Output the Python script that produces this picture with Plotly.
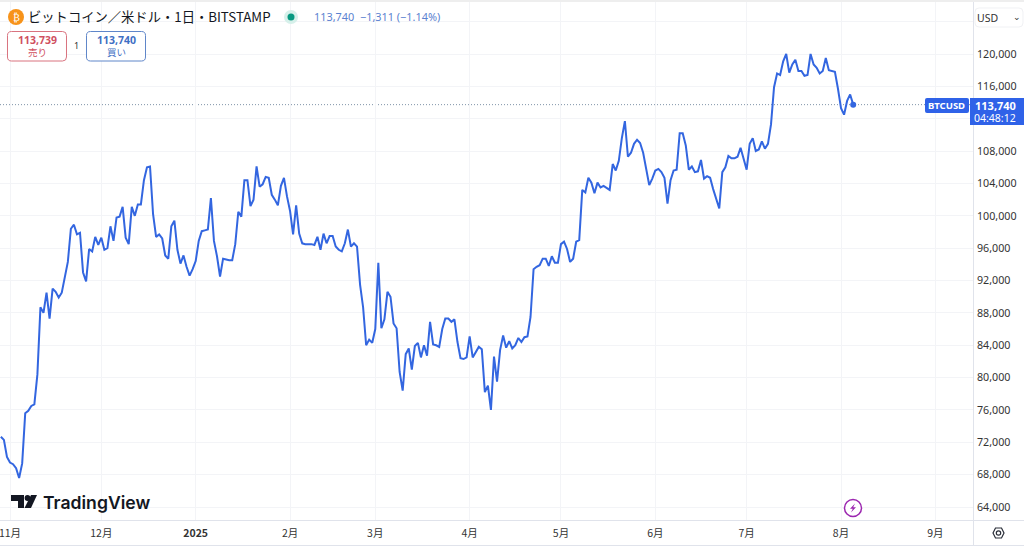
import pandas as pd
import plotly.graph_objects as go

# Daily closes, first one is 2024-10-29
start_date = "2024-10-29"
closes = [
    72700, 72300, 70200, 69500, 69300, 68800, 67600, 69400, 75600, 75900, 76500, 76700, 80400, 88700, 88000, 90500,
    87300, 91000, 90600, 89900, 90500, 92300, 94300, 98400, 98900, 97700, 97900, 93000, 91900, 95900, 95600, 97400,
    96400, 97300, 95800, 96000, 98700, 96900, 99800, 99900, 101100, 97300, 96500, 101100, 100000, 101400, 101400, 104400,
    106000, 106100, 100200, 97400, 97700, 97200, 95100, 94700, 98700, 99400, 95800, 94100, 95100, 93700, 92600, 93400,
    94400, 96900, 98100, 98200, 98300, 102200, 96900, 95000, 92500, 94700, 94600, 94500, 94500, 96500, 100500, 99900,
    104400, 104400, 101200, 102000, 106100, 103600, 103900, 104800, 104700, 102600, 102000, 101300, 103700, 104700, 102400, 100600,
    97700, 101300, 97800, 96600, 96500, 96500, 96500, 96400, 97400, 95800, 97800, 96600, 97500, 97500, 96200, 95800,
    95600, 96600, 98300, 96200, 96600, 96200, 91500, 88700, 84000, 84700, 84300, 86000, 94200, 86100, 87200, 90600,
    90000, 86700, 86100, 80700, 78400, 82900, 83600, 81000, 83900, 84300, 82500, 84000, 82700, 86900, 84100, 84000,
    83800, 86000, 87300, 87300, 86900, 87200, 84400, 82400, 82300, 82500, 85100, 82500, 83100, 83800, 83500, 78200,
    79000, 76000, 82600, 79500, 83400, 85200, 83700, 84500, 83600, 84000, 84900, 84400, 85000, 85100, 87500, 93400,
    93700, 93900, 94700, 94700, 93800, 95000, 94200, 94200, 96500, 96800, 95900, 94300, 94700, 96800, 97000, 103200,
    102900, 104700, 104100, 102800, 104100, 103500, 103700, 103500, 103200, 106400, 105600, 106800, 109600, 111700, 107300, 107800,
    108900, 109400, 109000, 107800, 105600, 103800, 104600, 105600, 105800, 105400, 104700, 101500, 104400, 105600, 105700, 110200,
    110200, 108700, 105700, 106100, 105400, 105500, 106900, 104600, 104900, 104700, 103300, 102100, 100900, 105400, 106000, 107400,
    107100, 107100, 107300, 108400, 107100, 105700, 108900, 109600, 108000, 108200, 109200, 108300, 108900, 111300, 115900, 117600,
    117400, 119100, 120000, 117700, 118700, 119300, 117900, 117900, 117300, 117400, 120000, 118700, 118300, 117600, 117900, 119500,
    118000, 117900, 117800, 115700, 113300, 112500, 114200, 115000, 113740,
]

month_dates = ["2024-11-01", "2024-12-01", "2025-01-01", "2025-02-01", "2025-03-01", "2025-04-01",
               "2025-05-01", "2025-06-01", "2025-07-01", "2025-08-01", "2025-09-01"]
month_labels = ["11月", "12月", "<b>2025</b>", "2月", "3月", "4月", "5月", "6月", "7月", "8月", "9月"]

price_ticks = [64000, 68000, 72000, 76000, 80000, 84000, 88000, 92000, 96000, 100000,
               104000, 108000, 112000, 116000, 120000, 124000]
# 112,000 sits under the price tag and 124,000 under the USD button
price_labels = ["" if p in (112000, 124000) else f"{p:,}" for p in price_ticks]

last_price = closes[-1]
dates = pd.date_range(start_date, periods=len(closes), freq="D")

W, H = 1024, 554
PLOT_R, PLOT_B, PLOT_T = 973, 520, 2
PX_PER_DAY = 3.044
USD_PER_PX = 123.6
BLUE = "#3366e0"
GRID = "#f3f4f7"
BORDER = "#e0e3eb"
JP = "Noto Sans CJK JP"

nov1 = pd.Timestamp("2024-11-01")
x_left = nov1 - pd.Timedelta(days=10 / PX_PER_DAY)
x_right = nov1 + pd.Timedelta(days=(PLOT_R - 10) / PX_PER_DAY)
y_top = 120000 + (54 - PLOT_T) * USD_PER_PX
y_bottom = 120000 - (PLOT_B - 54) * USD_PER_PX


def px(x):
    return x / W


def py(y):
    return 1 - y / H


def box(x0, y0, x1, y1, kind="rect", **kw):
    return dict(type=kind, xref="paper", yref="paper", x0=px(x0), x1=px(x1), y0=py(y0), y1=py(y1), **kw)


def dot(cx, cy, r, **kw):
    return box(cx - r, cy - r, cx + r, cy + r, kind="circle", **kw)


def poly(points, **kw):
    path = "M " + " L ".join(f"{px(x):.5f},{py(y):.5f}" for x, y in points) + " Z"
    return dict(type="path", xref="paper", yref="paper", path=path, **kw)


def round_box(x0, y0, x1, y1, r, **kw):
    def p(x, y):
        return f"{px(x):.5f},{py(y):.5f}"
    path = (f"M {p(x0 + r, y0)} L {p(x1 - r, y0)} Q {p(x1, y0)} {p(x1, y0 + r)} "
            f"L {p(x1, y1 - r)} Q {p(x1, y1)} {p(x1 - r, y1)} "
            f"L {p(x0 + r, y1)} Q {p(x0, y1)} {p(x0, y1 - r)} "
            f"L {p(x0, y0 + r)} Q {p(x0, y0)} {p(x0 + r, y0)} Z")
    return dict(type="path", xref="paper", yref="paper", path=path, **kw)


def label(x, y, text, size=11, color="#131722", anchor="left", family=JP, weight=None):
    font = dict(size=size, color=color, family=family)
    if weight:
        font["weight"] = weight
    return dict(xref="paper", yref="paper", x=px(x), y=py(y), text=text, showarrow=False,
                xanchor=anchor, yanchor="middle", font=font)


fig = go.Figure()

fig.add_trace(go.Scatter(x=dates, y=closes, mode="lines", line=dict(color=BLUE, width=2), showlegend=False))
fig.add_trace(go.Scatter(x=dates[-1:], y=closes[-1:], mode="markers",
                         marker=dict(color=BLUE, size=6), showlegend=False))

no_line = dict(width=0)
shapes = [
    # current price line
    dict(type="line", xref="x", yref="y", x0=x_left, x1=x_right, y0=last_price, y1=last_price,
         line=dict(color="#7f93a8", width=1, dash="1px,2px"), layer="below"),
    box(0, 0, W, 2, fillcolor="#eeeeee", line=no_line),
    box(0, 545, W, 546, fillcolor=BORDER, line=no_line),
    box(0, 520, W, 521, fillcolor=BORDER, line=no_line),
    box(973, 2, 974, 545, fillcolor=BORDER, line=no_line),
    # buy / sell boxes
    round_box(7.5, 31.5, 66.5, 61, 4, fillcolor="white", line=dict(color="#d9737f", width=1)),
    round_box(86.5, 31.5, 145.5, 61, 4, fillcolor="white", line=dict(color="#5f86c9", width=1)),
    # header dots
    dot(16, 17, 8, fillcolor="#f7931a", line=no_line),
    dot(291, 17, 7, fillcolor="#d6f0ea", line=no_line),
    dot(291, 17, 3.5, fillcolor="#089981", line=no_line),
    # USD button
    round_box(975, 8, 1023, 27, 4, fillcolor="white", line=dict(color="#f0f1f4", width=1)),
    # price tags
    round_box(925, 98, 969, 113, 2, fillcolor="#2f62e8", line=no_line),
    box(970, 98, 1024, 125, fillcolor="#2f62e8", line=no_line),
    # TradingView mark
    poly([(11, 495), (24, 495), (24, 508), (18, 508), (18, 501), (11, 501)], fillcolor="#131722", line=no_line),
    dot(27.5, 498, 2.9, fillcolor="#131722", line=no_line),
    poly([(31, 495), (37, 495), (31, 508), (24.5, 508)], fillcolor="#131722", line=no_line),
    # lightning button
    dot(853, 508, 8.5, fillcolor="white", line=dict(color="#9c27b0", width=1.5)),
    poly([(855, 503.5), (850, 508.8), (852.8, 508.8), (851, 512.5), (856, 507.2), (853.2, 507.2)],
         fillcolor="#9c27b0", line=no_line),
    # settings hexagon
    poly([(993, 533), (995.5, 528), (1001.5, 528), (1004, 533), (1001.5, 538), (995.5, 538)],
         line=dict(color="#2a2e39", width=1.2)),
    dot(998.5, 533, 2.2, line=dict(color="#2a2e39", width=1.2)),
]

annotations = [
    label(16, 17.5, "₿", size=10, color="white", anchor="center", family="DejaVu Sans"),
    label(26, 17, "ビットコイン／米ドル・1日・BITSTAMP", size=13.3),
    label(312, 16.5, "113,740  −1,311 (−1.14%)", size=10.9, color="#5b82d0", family="Noto Sans"),
    label(37, 39.5, "<b>113,739</b>", size=10.5, color="#d0505f", anchor="center", family="Noto Sans"),
    label(37, 52, "売り", size=9.5, color="#d0505f", anchor="center"),
    label(116, 39.5, "<b>113,740</b>", size=10.5, color="#3f6fc4", anchor="center", family="Noto Sans"),
    label(116, 52, "買い", size=9.5, color="#3f6fc4", anchor="center"),
    label(76.5, 45, "1", size=9, color="#333333", anchor="center", family="Noto Sans"),
    label(975, 17.5, "USD", size=10.5, color="#333333", family="Noto Sans"),
    label(1017, 17, "⌄", size=9, color="#333333", anchor="center", family="DejaVu Sans"),
    label(946.5, 105.5, "<b>BTCUSD</b>", size=9.5, color="white", anchor="center", family="Noto Sans"),
    label(995, 105, "<b>113,740</b>", size=11, color="white", anchor="center", family="Noto Sans"),
    label(995, 118, "04:48:12", size=10.5, color="white", anchor="center", family="Noto Sans"),
    label(41, 502, "TradingView", size=17.6, color="#131722", family="Inter", weight=600),
]

fig.update_layout(
    width=W, height=H,
    margin=dict(l=0, r=0, t=0, b=0),
    paper_bgcolor="white", plot_bgcolor="white",
    showlegend=False,
    shapes=shapes,
    annotations=annotations,
    xaxis=dict(
        domain=[0, PLOT_R / W], range=[x_left, x_right],
        tickmode="array", tickvals=month_dates, ticktext=month_labels,
        tickangle=0, showgrid=True, gridcolor=GRID, gridwidth=1,
        showline=False, zeroline=False, ticks="", ticklabelstandoff=5, ticklabeloverflow="allow",
        tickfont=dict(size=10.5, color="#333333", family=JP),
    ),
    yaxis=dict(
        domain=[1 - PLOT_B / H, 1 - PLOT_T / H], range=[y_bottom, y_top], side="right",
        tickmode="array", tickvals=price_ticks, ticktext=price_labels,
        showgrid=True, gridcolor=GRID, gridwidth=1,
        showline=False, zeroline=False, ticks="", ticklabelstandoff=3, ticklabeloverflow="allow",
        tickfont=dict(size=10.7, color="#333333", family="Noto Sans"),
    ),
)

# page body has a default margin that would push the chart off the window
fig.write_html("out.html", post_script="document.body.style.margin='0';",
               config=dict(displayModeBar=False))
